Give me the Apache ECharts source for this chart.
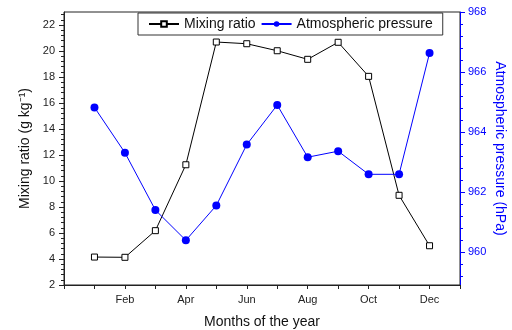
<!DOCTYPE html>
<html><head><meta charset="utf-8">
<script src="https://cdn.jsdelivr.net/npm/echarts@6/dist/echarts.min.js"></script>
<style>html,body{margin:0;padding:0;background:#fff}#c{width:512px;height:330px}</style>
</head><body><div id="c"></div>
<script>
const months = [1,2,3,4,5,6,7,8,9,10,11,12];
const monthNames = {2:'Feb',4:'Apr',6:'Jun',8:'Aug',10:'Oct',12:'Dec'};
const mixingRatio = [4.15,4.13,6.18,11.25,20.69,20.56,20.02,19.36,20.67,18.05,8.9,5.02];
const pressure = [964.82,963.31,961.40,960.39,961.55,963.58,964.90,963.16,963.36,962.59,962.59,966.63];
const leftMajor = [2,4,6,8,10,12,14,16,18,20,22];
const leftMinor = [2.4,2.8,3.2,3.6,4.4,4.8,5.2,5.6,6.4,6.8,7.2,7.6,8.4,8.8,9.2,9.6,10.4,10.8,11.2,11.6,12.4,12.8,13.2,13.6,14.4,14.8,15.2,15.6,16.4,16.8,17.2,17.6,18.4,18.8,19.2,19.6,20.4,20.8,21.2,21.6,22.4,22.8];
const rightMajor = [960,962,964,966,968];
const rightMinor = [959.2,959.6,960.4,960.8,961.2,961.6,962.4,962.8,963.2,963.6,964.4,964.8,965.2,965.6,966.4,966.8,967.2,967.6];
const FONT = 'Liberation Sans, Arial, sans-serif';
const BLUE = '#0000ff';

const chart = echarts.init(document.getElementById('c'));
const yBase = (min,max,pos) => ({type:'value',min:min,max:max,position:pos,splitLine:{show:false}});
chart.setOption({
  animation:false,
  textStyle:{fontFamily:FONT},
  grid:{left:64,right:52,top:12,bottom:45,show:true,borderColor:'#222',borderWidth:1,
    containLabel:false,outerBoundsMode:'none'},
  legend:{left:138,top:13,padding:[4,10,4,10],borderColor:'#333',borderWidth:1,backgroundColor:'#fff',
    itemWidth:30,itemHeight:7,itemGap:5,textStyle:{fontFamily:FONT,fontSize:14,color:'#111'},
    data:['Mixing ratio','Atmospheric pressure']},
  xAxis:[{type:'value',min:0,max:13,interval:1,
    axisLine:{lineStyle:{color:'#222'}},
    axisTick:{inside:false,length:4,lineStyle:{color:'#222'}},
    splitLine:{show:false},
    axisLabel:{fontSize:11,color:'#222',margin:9,fontFamily:FONT,
      formatter:v=>monthNames[v]||''},
    name:'Months of the year',nameLocation:'middle',nameGap:30,
    nameTextStyle:{fontSize:14,color:'#111',fontFamily:FONT}}],
  yAxis:[
    Object.assign(yBase(2,23,'left'),{
      axisLine:{show:true,lineStyle:{color:'#222'}},
      axisTick:{show:true,length:5,customValues:leftMajor,lineStyle:{color:'#222'}},
      axisLabel:{customValues:leftMajor,fontSize:11,color:'#222',margin:9,fontFamily:FONT},
      name:'Mixing ratio (g kg⁻¹)',nameLocation:'middle',nameGap:31,
      nameTextStyle:{fontSize:14,color:'#111',fontFamily:FONT}}),
    Object.assign(yBase(958.9,968,'right'),{
      axisLine:{show:true,lineStyle:{color:BLUE}},
      axisTick:{show:true,length:5,customValues:rightMajor,lineStyle:{color:BLUE}},
      axisLabel:{customValues:rightMajor,fontSize:11,color:BLUE,margin:8,fontFamily:FONT},
      name:'Atmospheric pressure (hPa)',nameLocation:'middle',nameGap:33,nameRotate:-90,
      nameMoveOverlap:false,
      nameTextStyle:{fontSize:14,color:BLUE,fontFamily:FONT}}),
    Object.assign(yBase(2,23,'left'),{
      axisLine:{show:false},
      axisTick:{show:true,length:3,customValues:leftMinor,lineStyle:{color:'#222'}},
      axisLabel:{show:false}}),
    Object.assign(yBase(958.9,968,'right'),{
      axisLine:{show:false},
      axisTick:{show:true,length:3,customValues:rightMinor,lineStyle:{color:BLUE}},
      axisLabel:{show:false}})
  ],
  series:[
    {name:'Mixing ratio',type:'line',yAxisIndex:0,
      data:months.map((m,i)=>[m,mixingRatio[i]]),
      symbol:'rect',symbolSize:6,showAllSymbol:true,
      lineStyle:{color:'#000',width:1},
      itemStyle:{color:'#fff',borderColor:'#000',borderWidth:1}},
    {name:'Atmospheric pressure',type:'line',yAxisIndex:1,
      data:months.map((m,i)=>[m,pressure[i]]),
      symbol:'circle',symbolSize:8,showAllSymbol:true,
      lineStyle:{color:BLUE,width:1},
      itemStyle:{color:BLUE,borderColor:BLUE,borderWidth:0}}
  ]
});
</script></body></html>
